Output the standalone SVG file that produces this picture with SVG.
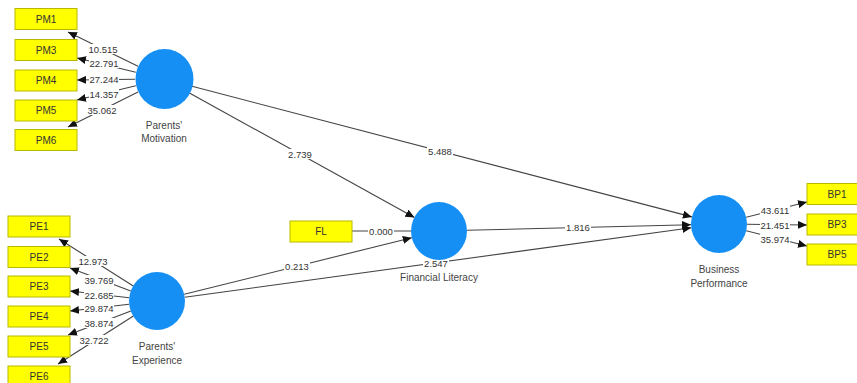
<svg xmlns="http://www.w3.org/2000/svg" width="857" height="383" viewBox="0 0 857 383">
<defs>
<marker id="arr" markerUnits="userSpaceOnUse" markerWidth="9" markerHeight="8" viewBox="0 0 9 8" refX="9" refY="4" orient="auto">
<path d="M0,0 L9,4 L0,8 Z" fill="#111"/>
</marker>
</defs>
<style>
.box{fill:#ffff00;stroke:#b8b800;stroke-width:1}
.bt{font-family:"Liberation Sans",Arial,sans-serif;font-size:10px;fill:#333;text-anchor:middle}
.lv{fill:#168ff5}
.nl{font-family:"Liberation Sans",Arial,sans-serif;font-size:10px;fill:#444;text-anchor:middle}
.ln{stroke:#444;stroke-width:1.1;fill:none}
.a{marker-end:url(#arr)}
.bg{fill:#fff}
.lb{font-family:"Liberation Sans",Arial,sans-serif;font-size:9.5px;fill:#333;text-anchor:middle}
</style>
<rect width="857" height="383" fill="#fff"/>
<g id="connectors">
<line class="ln a" x1="138" y1="66.2" x2="68" y2="32"/>
<line class="ln a" x1="135.8" y1="72.2" x2="77" y2="58"/>
<line class="ln a" x1="135" y1="79.3" x2="77" y2="80"/>
<line class="ln a" x1="135.8" y1="85.8" x2="77" y2="100"/>
<line class="ln a" x1="138" y1="92" x2="68" y2="127"/>
<line class="ln a" x1="133.3" y1="286" x2="59" y2="239"/>
<line class="ln a" x1="130.8" y1="291.1" x2="70" y2="268"/>
<line class="ln a" x1="129.2" y1="297.8" x2="70" y2="291"/>
<line class="ln a" x1="129.2" y1="304.2" x2="70" y2="311"/>
<line class="ln a" x1="130.9" y1="311" x2="68" y2="335"/>
<line class="ln a" x1="133.4" y1="316" x2="58" y2="364"/>
<line class="ln a" x1="189.4" y1="93" x2="414.5" y2="217.5"/>
<line class="ln a" x1="192" y1="86.3" x2="691.9" y2="216.9"/>
<line class="ln a" x1="184.2" y1="294.3" x2="411.8" y2="237.7"/>
<line class="ln a" x1="184.7" y1="297.2" x2="691.3" y2="227.8"/>
<line class="ln a" x1="467" y1="230.3" x2="691" y2="224.7"/>
<line class="ln" x1="352" y1="231" x2="411" y2="231"/>
<line class="ln a" x1="746.2" y1="217.2" x2="807" y2="202"/>
<line class="ln a" x1="747" y1="224.3" x2="807" y2="225"/>
<line class="ln a" x1="746.2" y1="230.8" x2="807" y2="246"/>
<rect class="bg" x="88" y="44" width="30" height="10"/><text class="lb" x="103" y="52.5">10.515</text>
<rect class="bg" x="89" y="58" width="30" height="10"/><text class="lb" x="104" y="66.5">22.791</text>
<rect class="bg" x="89" y="74" width="30" height="10"/><text class="lb" x="104" y="82.5">27.244</text>
<rect class="bg" x="89" y="89" width="30" height="10"/><text class="lb" x="104" y="97.5">14.357</text>
<rect class="bg" x="87" y="105" width="30" height="10"/><text class="lb" x="102" y="113.5">35.062</text>
<rect class="bg" x="78" y="256" width="30" height="10"/><text class="lb" x="93" y="264.5">12.973</text>
<rect class="bg" x="84" y="275" width="30" height="10"/><text class="lb" x="99" y="283.5">39.769</text>
<rect class="bg" x="84" y="290" width="30" height="10"/><text class="lb" x="99" y="298.5">22.685</text>
<rect class="bg" x="84" y="303" width="30" height="10"/><text class="lb" x="99" y="311.5">29.874</text>
<rect class="bg" x="84" y="318" width="30" height="10"/><text class="lb" x="99" y="326.5">38.874</text>
<rect class="bg" x="79" y="335" width="30" height="10"/><text class="lb" x="94" y="343.5">32.722</text>
<rect class="bg" x="287" y="149" width="26" height="10"/><text class="lb" x="300" y="157.5">2.739</text>
<rect class="bg" x="427" y="146" width="26" height="10"/><text class="lb" x="440" y="154.5">5.488</text>
<rect class="bg" x="284" y="261" width="26" height="10"/><text class="lb" x="297" y="269.5">0.213</text>
<rect class="bg" x="423" y="258" width="26" height="10"/><text class="lb" x="436" y="266.5">2.547</text>
<rect class="bg" x="565" y="222" width="26" height="10"/><text class="lb" x="578" y="230.5">1.816</text>
<rect class="bg" x="368" y="226" width="26" height="10"/><text class="lb" x="381" y="234.5">0.000</text>
<rect class="bg" x="760" y="205" width="30" height="10"/><text class="lb" x="775" y="213.5">43.611</text>
<rect class="bg" x="760" y="220" width="30" height="10"/><text class="lb" x="775" y="228.5">21.451</text>
<rect class="bg" x="760" y="234" width="30" height="10"/><text class="lb" x="775" y="242.5">35.974</text>
</g>
<g id="PM1"><rect class="box" x="15" y="8.5" width="62" height="21"/><text class="bt" x="46" y="22.5">PM1</text></g>
<g id="PM3"><rect class="box" x="15" y="39.5" width="62" height="21"/><text class="bt" x="46" y="53.5">PM3</text></g>
<g id="PM4"><rect class="box" x="15" y="70" width="62" height="21"/><text class="bt" x="46" y="84">PM4</text></g>
<g id="PM5"><rect class="box" x="15" y="100" width="62" height="21"/><text class="bt" x="46" y="114">PM5</text></g>
<g id="PM6"><rect class="box" x="15" y="129.5" width="62" height="21"/><text class="bt" x="46" y="143.5">PM6</text></g>
<g id="PE1"><rect class="box" x="8" y="216" width="62" height="21"/><text class="bt" x="39" y="230">PE1</text></g>
<g id="PE2"><rect class="box" x="8" y="246.5" width="62" height="21"/><text class="bt" x="39" y="260.5">PE2</text></g>
<g id="PE3"><rect class="box" x="8" y="276" width="62" height="21"/><text class="bt" x="39" y="290">PE3</text></g>
<g id="PE4"><rect class="box" x="8" y="306" width="62" height="21"/><text class="bt" x="39" y="320">PE4</text></g>
<g id="PE5"><rect class="box" x="8" y="336" width="62" height="21"/><text class="bt" x="39" y="350">PE5</text></g>
<g id="PE6"><rect class="box" x="8" y="366" width="62" height="21"/><text class="bt" x="39" y="380">PE6</text></g>
<g id="FL"><rect class="box" x="290" y="221" width="62" height="21"/><text class="bt" x="321" y="235">FL</text></g>
<g id="BP1"><rect class="box" x="807" y="183.5" width="62" height="21"/><text class="bt" x="837" y="197.5">BP1</text></g>
<g id="BP3"><rect class="box" x="807" y="214" width="62" height="21"/><text class="bt" x="837" y="228">BP3</text></g>
<g id="BP5"><rect class="box" x="807" y="244" width="62" height="21"/><text class="bt" x="837" y="258">BP5</text></g>
<g id="ParentsMotivation"><ellipse class="lv" cx="164.5" cy="79" rx="29" ry="30"/><text class="nl" x="164" y="129">Parents'</text><text class="nl" x="164" y="142">Motivation</text></g>
<g id="ParentsExperience"><ellipse class="lv" cx="157" cy="301" rx="28" ry="29"/><text class="nl" x="157" y="350">Parents'</text><text class="nl" x="157" y="364">Experience</text></g>
<g id="FinancialLiteracy"><ellipse class="lv" cx="439" cy="231" rx="28" ry="29"/><text class="nl" x="439" y="281">Financial Literacy</text></g>
<g id="BusinessPerformance"><ellipse class="lv" cx="719" cy="224" rx="28" ry="29"/><text class="nl" x="719" y="273">Business</text><text class="nl" x="719" y="287">Performance</text></g>
</svg>
